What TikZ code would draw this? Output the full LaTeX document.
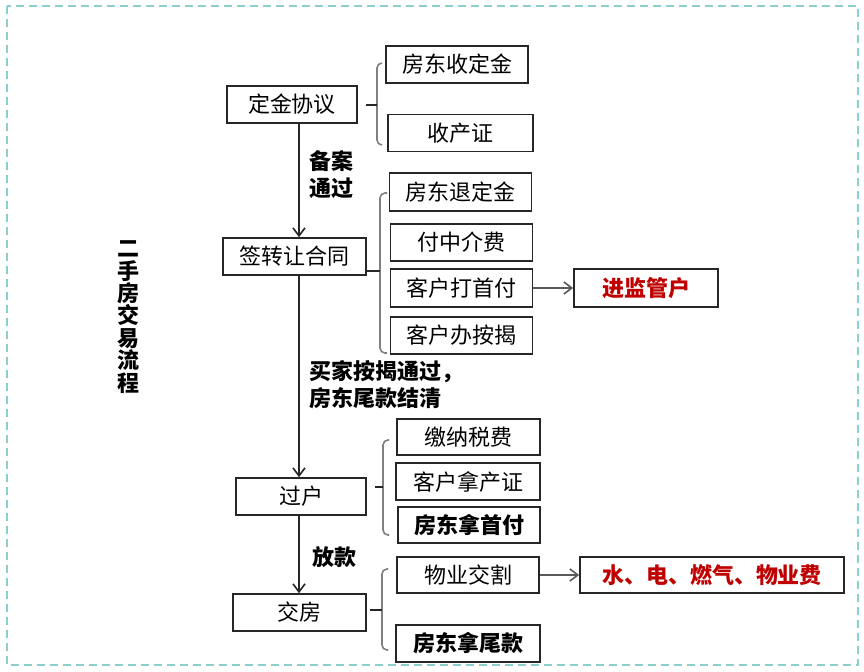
\documentclass[tikz,border=0pt]{standalone}
\usepackage{fontspec}
\setmainfont{Noto Sans CJK SC}
\usetikzlibrary{arrows.meta,positioning,calc}
\definecolor{frameline}{HTML}{8CCFCF}
\definecolor{boxline}{HTML}{262626}
\definecolor{bracegray}{HTML}{808080}
\definecolor{alert}{HTML}{C00000}
\tikzset{
  stepbox/.style={draw=boxline, line width=0.8pt, minimum width=71pt,
    minimum height=18.5pt, inner sep=0pt, font=\fontsize{11}{13}\selectfont},
  mainbox/.style={stepbox, minimum width=65pt},
  boldbox/.style={stepbox, font=\fontsize{11}{13}\selectfont\bfseries},
  redbox/.style={boldbox, text=alert},
  note/.style={font=\fontsize{11}{13.5}\selectfont\bfseries, align=left,
    anchor=west, inner sep=0pt},
  arr/.style={-{Straight Barb[length=4pt,width=6pt]}, line width=0.8pt, draw=boxline},
  sidearr/.style={arr, draw=bracegray!70!black},
  bracket/.style={draw=bracegray, line width=0.8pt, rounded corners=2.5pt},
  tick/.style={draw=boxline, line width=0.8pt}
}
\begin{document}
\begin{tikzpicture}[x=0.5pt, y=-0.5pt]
    \useasboundingbox (0,0) rectangle (864,671);
    \draw[frameline, line width=0.6pt, dash pattern=on 4pt off 2.5pt] (7,6) rectangle (858,665);
    % title
    \node[font=\fontsize{11}{11.2}\selectfont\bfseries, align=center] (title) at (128,317)
      {二\\手\\房\\交\\易\\流\\程};
    % main steps
    \node[mainbox] (deposit) at (292,104.5) {定金协议};
    \node[mainbox, minimum width=71.5pt] (contract) at (294.5,256.5) {签转让合同};
    \node[mainbox] (transfer) at (301,496.5) {过户};
    \node[mainbox, minimum width=66.5pt] (handover) at (299.5,612.5) {交房};
    \coordinate (spine) at (299,0);
    \draw[arr] (deposit.south -| spine) -- (contract.north -| spine);
    \draw[arr] (contract.south -| spine) -- (transfer.north -| spine);
    \draw[arr] (transfer.south -| spine) -- (handover.north -| spine);
    \node[note] (filed) at (309,175) {备案\\通过};
    \node[note] (loanok) at (309,385) {买家按揭通过，\\房东尾款结清};
    \node[note] (release) at (312,557) {放款};
    % sub steps
    \node[stepbox] (getdep) at (457,64.5) {房东收定金};
    \node[stepbox, minimum width=72.5pt] (getcert) at (460.5,133) {收产证};
    \node[stepbox, minimum height=19pt] (refund) at (460.5,192) {房东退定金};
    \node[stepbox] (agentfee) at (461.5,242.5) {付中介费};
    \node[stepbox, minimum height=19pt] (downpay) at (461.5,288) {客户打首付};
    \node[stepbox] (mortgage) at (461.5,335.5) {客户办按揭};
    \node[redbox, minimum width=72pt, minimum height=19pt] (escrow) at (646,288) {进监管户};
    \node[stepbox, minimum width=71.5pt, minimum height=18pt] (tax) at (468.5,437) {缴纳税费};
    \node[stepbox, minimum width=72pt] (buyercert) at (468,481.5) {客户拿产证};
    \node[boldbox, minimum height=18pt] (sellerdown) at (469,525) {房东拿首付};
    \node[stepbox, minimum height=18pt] (property) at (468,575) {物业交割};
    \node[redbox, minimum width=132pt, minimum height=18pt] (utilities) at (712,575) {水、电、燃气、物业费};
    \node[boldbox, minimum width=72pt] (sellerrest) at (468,643.5) {房东拿尾款};
    \draw[sidearr] (downpay) -- (escrow);
    \draw[sidearr] (property) -- (utilities);
    % brackets
    \draw[bracket] (382,63) -- (377,63) -- (377,145) -- (382,145);
    \draw[tick] (366,105) -- (377,105);
    \draw[bracket] (387,193) -- (380,193) -- (380,353) -- (387,353);
    \draw[tick] (contract.east |- 0,271) -- (380,271);
    \draw[bracket] (389,440) -- (383,440) -- (383,535) -- (389,535);
    \draw[tick] (375,487) -- (383,487);
    \draw[bracket] (388,569) -- (382,569) -- (382,650) -- (388,650);
    \draw[tick] (370,610) -- (382,610);
  \end{tikzpicture}
\end{document}
